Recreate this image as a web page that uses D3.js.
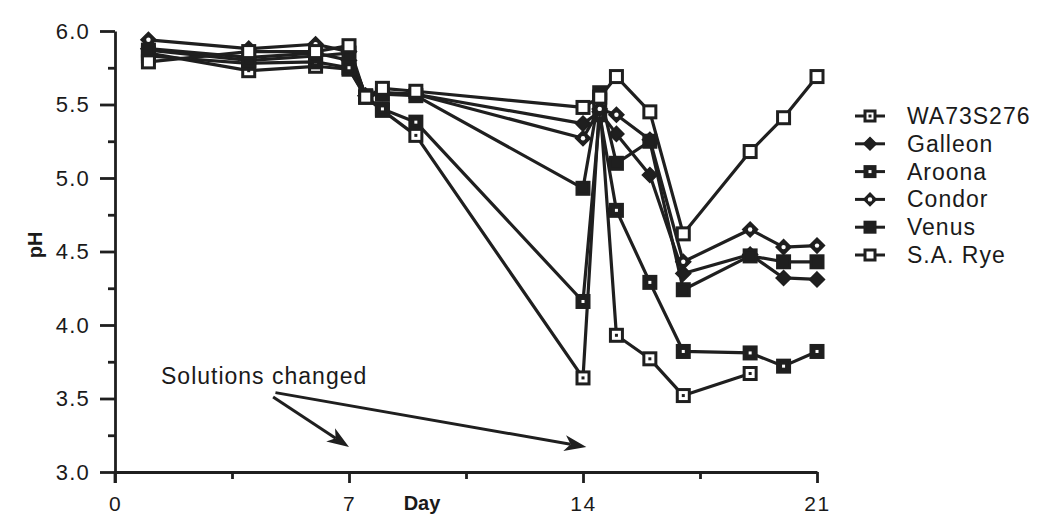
<!DOCTYPE html>
<html>
<head>
<meta charset="utf-8">
<script src="https://cdn.jsdelivr.net/npm/d3@7"></script>
<style>
  body { margin: 0; background: #fff; }
  svg text { font-family: "Liberation Sans", Arial, sans-serif; fill: #1a1a1a; }
</style>
</head>
<body>
<div id="chart"></div>
<script>
// sampling days
const days = [1, 4, 6, 7, 7.5, 8, 9, 14, 14.5, 15, 16, 17, 19, 20, 21];

// pH per cultivar (null = not measured)
const wa73s276 = [5.85, 5.73, 5.76, 5.74, 5.55, 5.46, 5.29, 3.64, 5.53, 3.93, 3.77, 3.52, 3.67, null, null];
const galleon  = [5.88, 5.82, 5.85, 5.80, 5.56, 5.58, 5.57, 5.37, 5.45, 5.30, 5.02, 4.35, 4.48, 4.32, 4.31];
const aroona   = [5.83, 5.78, 5.79, 5.75, 5.55, 5.47, 5.38, 4.16, 5.43, 4.78, 4.29, 3.82, 3.81, 3.72, 3.82];
const condor   = [5.94, 5.88, 5.91, 5.86, 5.56, 5.58, 5.57, 5.27, 5.47, 5.43, 5.26, 4.43, 4.65, 4.53, 4.54];
const venus    = [5.87, 5.80, 5.83, 5.85, 5.56, 5.57, 5.56, 4.93, 5.58, 5.10, 5.25, 4.24, 4.47, 4.43, 4.43];
const saRye    = [5.79, 5.86, 5.86, 5.90, 5.55, 5.61, 5.59, 5.48, 5.55, 5.69, 5.45, 4.62, 5.18, 5.41, 5.69];

const seriesNames = ["WA73S276", "Galleon", "Aroona", "Condor", "Venus", "S.A. Rye"];
const seriesValues = [wa73s276, galleon, aroona, condor, venus, saRye];

const xTickLabels = [0, 7, 14, 21];
const yTickLabels = [3.0, 3.5, 4.0, 4.5, 5.0, 5.5, 6.0];

const ink = "#1f1f1f";
const w = 1041, h = 517;

// marker style per series
const markerType = {
  "WA73S276": "squareDot",
  "Galleon": "diamond",
  "Aroona": "squareFilledDot",
  "Condor": "diamondDot",
  "Venus": "squareFilled",
  "S.A. Rye": "square"
};

const x = d3.scaleLinear().domain([0, 21]).range([115, 817]);
const y = d3.scaleLinear().domain([3, 6]).range([472, 31]);

const svg = d3.select("#chart").append("svg")
  .attr("width", w)
  .attr("height", h);

// ---- axes
const xAxis = svg.append("g")
  .attr("transform", "translate(0," + y(3) + ")")
  .call(d3.axisBottom(x).tickValues(xTickLabels).tickSize(11).tickSizeOuter(0).tickPadding(13).tickFormat(d3.format("d")));

svg.append("g")
  .attr("transform", "translate(0," + y(3) + ")")
  .call(d3.axisBottom(x).tickValues([3.5, 10.5, 17.5]).tickSize(7).tickFormat(""))
  .select(".domain").remove();

const yAxis = svg.append("g")
  .attr("transform", "translate(" + x(0) + ",0)")
  .call(d3.axisLeft(y).tickValues(yTickLabels).tickSize(15).tickSizeOuter(0).tickPadding(10).tickFormat(d3.format(".1f")));

svg.append("g")
  .attr("transform", "translate(" + x(0) + ",0)")
  .call(d3.axisLeft(y).tickValues([3.25, 3.75, 4.25, 4.75, 5.25, 5.75]).tickSize(7).tickFormat(""))
  .select(".domain").remove();

svg.selectAll(".domain, .tick line")
  .attr("stroke", ink)
  .attr("stroke-width", 2.8);

// y axis runs a little below the x axis
svg.append("line")
  .attr("x1", x(0)).attr("x2", x(0))
  .attr("y1", y(3)).attr("y2", y(3) + 11)
  .attr("stroke", ink).attr("stroke-width", 2.8);

xAxis.selectAll("text")
  .style("font-size", "21px")
  .attr("letter-spacing", "1.5px")
  .attr("dy", "0.71em");
yAxis.selectAll("text")
  .style("font-size", "22px")
  .attr("letter-spacing", "1.2px");

svg.append("text")
  .attr("x", 422).attr("y", 510)
  .attr("text-anchor", "middle")
  .style("font-size", "20px")
  .style("font-weight", "bold")
  .text("Day");

svg.append("text")
  .attr("transform", "translate(42,245) rotate(-90)")
  .attr("text-anchor", "middle")
  .style("font-size", "20px")
  .style("font-weight", "bold")
  .text("pH");

// ---- markers
function drawMarker(sel, type, s) {
  const r = s / 2;
  if (type.startsWith("square")) {
    const filled = type === "squareFilled" || type === "squareFilledDot";
    sel.append("rect")
      .attr("x", -r).attr("y", -r).attr("width", s).attr("height", s)
      .attr("fill", filled ? ink : "#fff")
      .attr("stroke", ink).attr("stroke-width", 3);
    if (type === "squareDot") {
      sel.append("rect").attr("x", -1.5).attr("y", -1.5).attr("width", 3).attr("height", 3).attr("fill", ink);
    }
    if (type === "squareFilledDot") {
      sel.append("rect").attr("x", -1.5).attr("y", -1.5).attr("width", 3).attr("height", 3).attr("fill", "#fff");
    }
  } else {
    const d = r * 1.25;
    sel.append("path")
      .attr("d", "M0," + (-d) + "L" + d + ",0L0," + d + "L" + (-d) + ",0Z")
      .attr("fill", ink)
      .attr("stroke", ink).attr("stroke-width", 1.5);
    if (type === "diamondDot") {
      sel.append("circle").attr("r", 2.2).attr("fill", "#fff");
    }
  }
}

const series = seriesNames.map((name, i) => ({
  name: name,
  points: days.map((d, j) => ({ day: d, ph: seriesValues[i][j] })).filter(p => p.ph != null)
}));

const line = d3.line()
  .x(d => x(d.day))
  .y(d => y(d.ph));

svg.append("g").selectAll("path")
  .data(series)
  .enter()
  .append("path")
  .attr("d", d => line(d.points))
  .attr("fill", "none")
  .attr("stroke", ink)
  .attr("stroke-width", 3.2)
  .attr("stroke-linejoin", "round");

series.forEach(function(s) {
  svg.append("g").selectAll("g")
    .data(s.points)
    .enter()
    .append("g")
    .attr("transform", d => "translate(" + x(d.day) + "," + y(d.ph) + ")")
    .each(function() {
      drawMarker(d3.select(this), markerType[s.name], 12);
    });
});

// ---- legend
const legend = svg.append("g").attr("transform", "translate(855,116)");
seriesNames.forEach(function(name, i) {
  const row = legend.append("g").attr("transform", "translate(0," + (i * 27.8) + ")");
  row.append("line")
    .attr("x1", 0).attr("x2", 30)
    .attr("stroke", ink).attr("stroke-width", 3);
  drawMarker(row.append("g").attr("transform", "translate(15,0)"), markerType[name], 10);
  row.append("text")
    .attr("x", 52).attr("y", 8)
    .style("font-size", "23px")
    .attr("letter-spacing", "1px")
    .text(name);
});

// ---- annotation
svg.append("text")
  .attr("x", 161).attr("y", 384)
  .style("font-size", "23px")
  .attr("letter-spacing", "1px")
  .text("Solutions changed");

function arrow(x0, y0, x1, y1) {
  const a = Math.atan2(y1 - y0, x1 - x0);
  const len = 22, half = 8, back = 16;
  const bx = x1 - back * Math.cos(a), by = y1 - back * Math.sin(a);
  svg.append("line")
    .attr("x1", x0).attr("y1", y0).attr("x2", bx).attr("y2", by)
    .attr("stroke", ink).attr("stroke-width", 3);
  const p = (l, o) => [x1 - l * Math.cos(a) - o * Math.sin(a), y1 - l * Math.sin(a) + o * Math.cos(a)];
  const pts = [[x1, y1], p(len, half), p(back, 0), p(len, -half)];
  svg.append("path")
    .attr("d", "M" + pts.map(q => q.join(",")).join("L") + "Z")
    .attr("fill", ink);
}

arrow(x(4.73), y(3.51), x(7.0), y(3.17));
arrow(x(4.8), y(3.54), x(14.1), y(3.17));
</script>
</body>
</html>
